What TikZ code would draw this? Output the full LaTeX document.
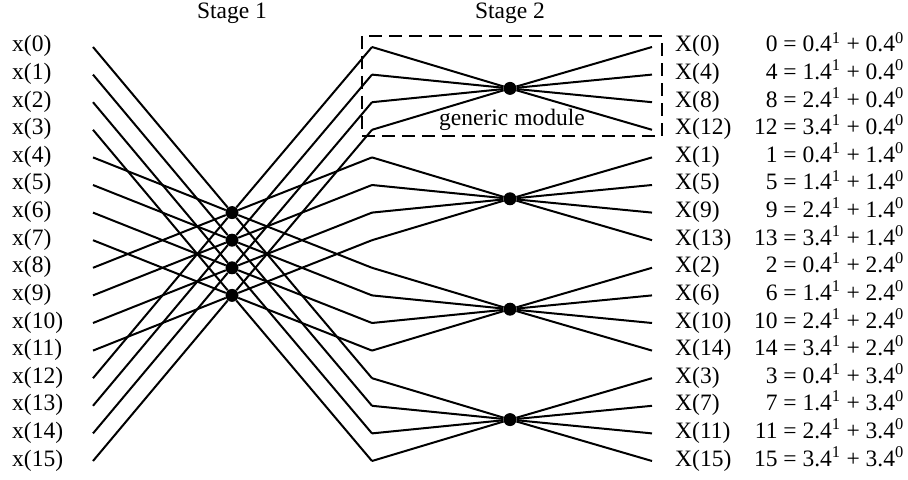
\documentclass[tikz,border=0pt]{standalone}
\usepackage{fontspec}
\setmainfont{Liberation Serif}
\usetikzlibrary{calc}
\tikzset{
  wire/.style={line width=2bp,black},
  dot/.style={circle,fill=black,inner sep=0pt,minimum size=13bp},
  lab/.style={inner sep=0pt,text height=15bp,text depth=5bp,
              font=\fontsize{23.5bp}{28bp}\selectfont},
  inlab/.style={lab,anchor=west},
  eqlab/.style={lab,anchor=east},
  modbox/.style={line width=2bp,dash pattern=on 13bp off 7bp},
}

\begin{document}
\begin{tikzpicture}[x=1bp,y=-1bp]
  \useasboundingbox (0,0) rectangle (908,480);
  \node[lab] (st1) at (232,14) {Stage 1};
  \node[lab] (st2) at (510,14) {Stage 2};
  % rows: inputs, stage-2 entries, outputs
  \foreach \r in {0,...,15}{
    \coordinate (a\r) at (93,{47+27.6*\r});
    \coordinate (b\r) at (372,{47+27.6*\r});
    \coordinate (c\r) at (652,{47+27.6*\r});
    \node[inlab] (xl\r) at (12,{47+27.6*\r}) {x(\r)};
  }
  \foreach \k in {0,...,3}{
    \node[dot] (d\k) at (232,{47+27.6*(\k+6)}) {};
    \node[dot] (e\k) at (510,{47+27.6*(4*\k+1.5)}) {};
  }
  % stage 1
  \foreach \k in {0,...,3}
    \foreach \j in {0,...,3}{
      \pgfmathtruncatemacro\i{\k+4*\j}
      \draw[wire] (a\i) -- (d\k) -- (b\i);
    }
  % stage 2 and outputs
  \foreach \m in {0,...,3}
    \foreach \j in {0,...,3}{
      \pgfmathtruncatemacro\r{4*\m+\j}
      \pgfmathtruncatemacro\n{4*\j+\m}
      \draw[wire] (b\r) -- (e\m) -- (c\r);
      \node[inlab] (ol\r) at (675,{47+27.6*\r}) {X(\n)};
      \node[eqlab] (eq\r) at (904,{47+27.6*\r})
        {\n\ = \j.4\textsuperscript{1} + \m.4\textsuperscript{0}};
    }
  \draw[modbox] (362,36) rectangle (662,136);
  \node[lab] (gm) at (512,121) {generic module};
\end{tikzpicture}
\end{document}
